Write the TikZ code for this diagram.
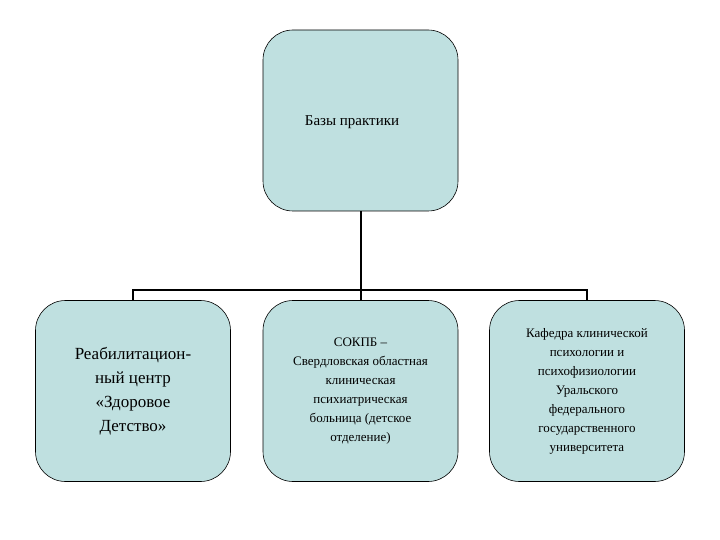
\documentclass[tikz,border=0pt]{standalone}
\usepackage{fontspec}
\setmainfont{Liberation Serif}
\definecolor{boxfill}{HTML}{BFE0E0}
\begin{document}
\begin{tikzpicture}[x=1pt,y=-1pt,
  bx/.style={draw=black,line width=0.6pt,fill=boxfill,rounded corners=30pt,minimum width=195pt,minimum height=181pt,align=center,inner sep=0pt},
  conn/.style={line width=2pt}]
\useasboundingbox (0,0) rectangle (720,540);
\node[bx] (top) at (360.5,120.5) {};
\node (tt) at (352,122) [font=\fontsize{15}{18}\selectfont] {Базы практики};
\node[bx,font=\fontsize{17}{24}\selectfont] (l) at (133,391) {Реабилитацион-\\ный центр\\«Здоровое\\Детство»};
\node[bx,font=\fontsize{13}{19}\selectfont] (m) at (360.5,391) {СОКПБ –\\Свердловская областная\\клиническая\\психиатрическая\\больница (детское\\отделение)};
\node[bx,font=\fontsize{13}{19}\selectfont] (r) at (587,391) {Кафедра клинической\\психологии и\\психофизиологии\\Уральского\\федерального\\государственного\\университета};
\coordinate (hl) at (133,290);
\coordinate (hr) at (587,290);
\draw[conn] (top.south) -- (m.north);
\draw[conn] (l.north) -- (hl) -- (hr) -- (r.north);
\end{tikzpicture}
\end{document}
